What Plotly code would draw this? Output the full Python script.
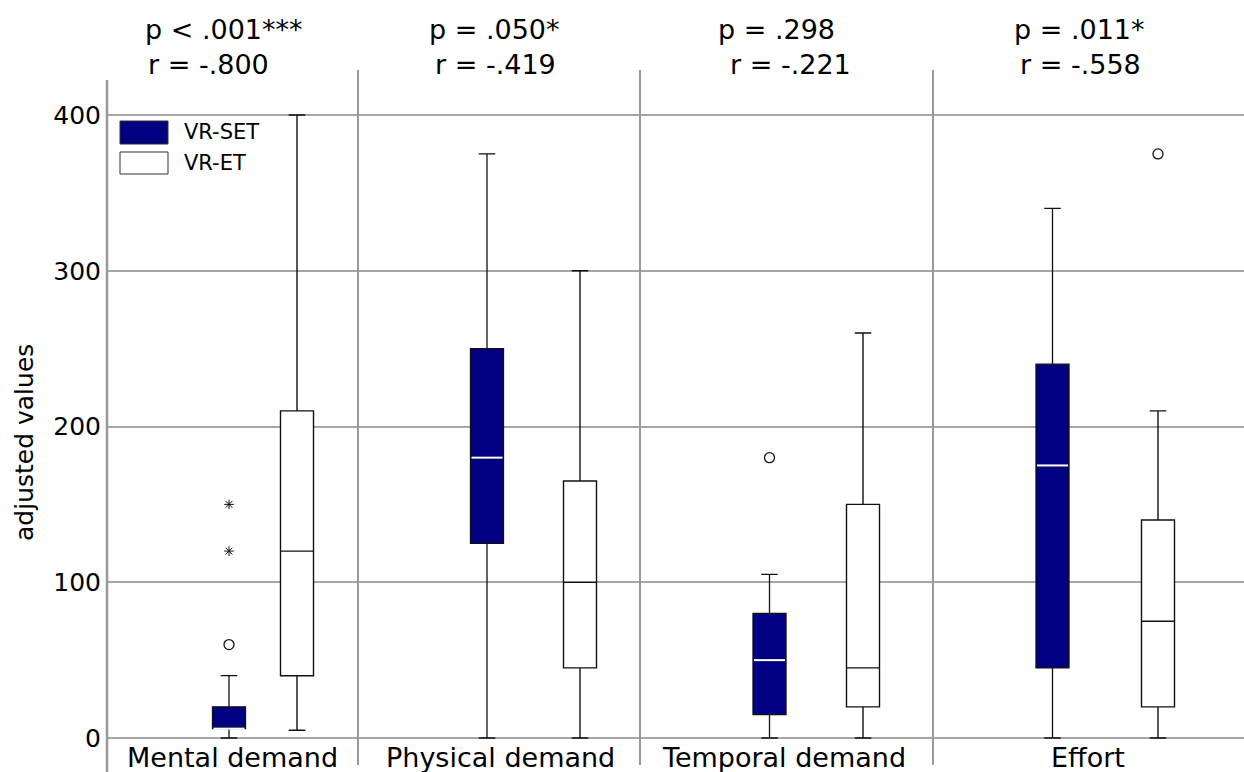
import plotly.graph_objects as go

# ---------------- data ----------------
categories = ["Mental demand", "Physical demand", "Temporal demand", "Effort"]
group_names = ["VR-SET", "VR-ET"]

# VR-SET box statistics
set_lower = [0, 0, 0, 0]
set_q1 = [6, 125, 15, 45]
set_median = [6, 180, 50, 175]
set_q3 = [20, 250, 80, 240]
set_upper = [40, 375, 105, 340]

# VR-ET box statistics
et_lower = [5, 0, 0, 0]
et_q1 = [40, 45, 20, 20]
et_median = [120, 100, 45, 75]
et_q3 = [210, 165, 150, 140]
et_upper = [400, 300, 260, 210]

# outliers (o) and extreme values (*)
set_outlier_cat = ["Mental demand", "Temporal demand"]
set_outlier_val = [60, 180]
set_extreme_cat = ["Mental demand", "Mental demand"]
set_extreme_val = [120, 150]
et_outlier_cat = ["Effort"]
et_outlier_val = [375]

p_labels = ["p < .001***", "p = .050*", "p = .298", "p = .011*"]
r_labels = ["r = -.800", "r = -.419", "r = -.221", "r = -.558"]
y_ticks = [0, 100, 200, 300, 400]
y_title = "adjusted values"

# ---------------- layout constants ----------------
W, H = 1244, 772
LEFT = 107
FONT = "DejaVu Sans"
NAVY = "#000080"
GRID = "#a6a6a6"

# x axis is laid out in pixel-like units across the plot area
X_RANGE = [LEFT, W]
SET_POS = [229, 487, 769.5, 1052.5]
ET_POS = [297, 580, 863, 1158]
LABEL_POS = [232.5, 500, 784, 1087.5]
P_POS = [224, 494.5, 776, 1079.5]
R_POS = [208, 495, 790, 1080.5]
SEPARATORS = [358, 640, 933]
BOX_W = 33

# vertical scale: value 0 sits at pixel 738, value 400 at pixel 115
PX0, PX400 = 738, 115
K = (PX0 - PX400) / 400.0


def yv(px):
    return (PX0 - px) / K


Y_RANGE = [yv(H), yv(0)]

set_pos_of = dict(zip(categories, SET_POS))
et_pos_of = dict(zip(categories, ET_POS))

fig = go.Figure()

# VR-SET boxes
fig.add_trace(go.Box(
    x=SET_POS, q1=set_q1, median=set_median, q3=set_q3,
    lowerfence=set_lower, upperfence=set_upper,
    width=BOX_W, whiskerwidth=0.5, boxpoints=False,
    fillcolor=NAVY, line=dict(color="#111111", width=1.3),
    name=group_names[0], showlegend=False, hoverinfo="skip"))

# white median lines on the VR-SET boxes
mx, my = [], []
for p, m in zip(SET_POS, set_median):
    mx += [p - BOX_W / 2 + 1, p + BOX_W / 2 - 1, None]
    my += [m, m, None]
fig.add_trace(go.Scatter(x=mx, y=my, mode="lines",
                         line=dict(color="white", width=2),
                         showlegend=False, hoverinfo="skip"))

# VR-ET boxes
fig.add_trace(go.Box(
    x=ET_POS, q1=et_q1, median=et_median, q3=et_q3,
    lowerfence=et_lower, upperfence=et_upper,
    width=BOX_W, whiskerwidth=0.5, boxpoints=False,
    fillcolor="white", line=dict(color="#111111", width=1.4),
    name=group_names[1], showlegend=False, hoverinfo="skip"))

# outliers
fig.add_trace(go.Scatter(
    x=[set_pos_of[c] for c in set_outlier_cat] + [et_pos_of[c] for c in et_outlier_cat],
    y=set_outlier_val + et_outlier_val, mode="markers",
    marker=dict(symbol="circle-open", size=10, color="#111111", line=dict(width=1.3)),
    showlegend=False, hoverinfo="skip"))
fig.add_trace(go.Scatter(
    x=[set_pos_of[c] for c in set_extreme_cat], y=set_extreme_val, mode="markers",
    marker=dict(symbol="asterisk-open", size=8, color="#111111", line=dict(width=1)),
    showlegend=False, hoverinfo="skip"))

shapes = []
# category separators
for s in SEPARATORS:
    shapes.append(dict(type="line", xref="x", yref="y", x0=s, x1=s,
                       y0=yv(765), y1=yv(70), line=dict(color="#999999", width=2)))
# left axis line
shapes.append(dict(type="line", xref="paper", yref="y", x0=0, x1=0,
                   y0=yv(H), y1=yv(80), line=dict(color="#999999", width=2.5)))
# legend swatches
shapes.append(dict(type="rect", xref="x", yref="y", x0=120, x1=168,
                   y0=yv(144), y1=yv(121), fillcolor=NAVY,
                   line=dict(color="#333333", width=1)))
shapes.append(dict(type="rect", xref="x", yref="y", x0=120, x1=168,
                   y0=yv(174), y1=yv(152), fillcolor="white",
                   line=dict(color="#333333", width=1)))

annotations = []
for name, ypx in zip(group_names, [132, 163]):
    annotations.append(dict(x=182, y=yv(ypx), xref="x", yref="y", text=name,
                            showarrow=False, xanchor="left", yanchor="middle",
                            font=dict(family=FONT, size=21, color="black")))
for c, xp in zip(categories, LABEL_POS):
    annotations.append(dict(x=xp, y=yv(757), xref="x", yref="y", text=c,
                            showarrow=False, xanchor="center", yanchor="middle",
                            font=dict(family=FONT, size=27, color="black")))
for t, xp in zip(p_labels, P_POS):
    annotations.append(dict(x=xp, y=yv(29), xref="x", yref="y", text=t,
                            showarrow=False, xanchor="center", yanchor="middle",
                            font=dict(family=FONT, size=27, color="black")))
for t, xp in zip(r_labels, R_POS):
    annotations.append(dict(x=xp, y=yv(64), xref="x", yref="y", text=t,
                            showarrow=False, xanchor="center", yanchor="middle",
                            font=dict(family=FONT, size=27, color="black")))
annotations.append(dict(x=(24 - LEFT) / (W - LEFT), y=yv(443), xref="paper", yref="y",
                        text=y_title, textangle=-90, showarrow=False,
                        xanchor="center", yanchor="middle",
                        font=dict(family=FONT, size=25, color="black")))

fig.update_layout(
    width=W, height=H, autosize=False,
    margin=dict(l=LEFT, r=0, t=0, b=0, pad=0),
    paper_bgcolor="white", plot_bgcolor="white",
    boxmode="overlay",
    font=dict(family=FONT, color="black"),
    xaxis=dict(range=X_RANGE, visible=False, showgrid=False, zeroline=False, fixedrange=True),
    yaxis=dict(range=Y_RANGE, tickvals=y_ticks, ticktext=[str(v) for v in y_ticks],
               showgrid=True, gridcolor=GRID, gridwidth=2,
               zeroline=True, zerolinecolor=GRID, zerolinewidth=2,
               showline=False, ticks="", ticklabelstandoff=5,
               tickfont=dict(family=FONT, size=25, color="black"), fixedrange=True),
    shapes=shapes, annotations=annotations,
    showlegend=False,
)

fig.write_html("out.html", config={"displayModeBar": False},
               post_script="document.body.style.margin='0';document.body.style.overflow='hidden';")
